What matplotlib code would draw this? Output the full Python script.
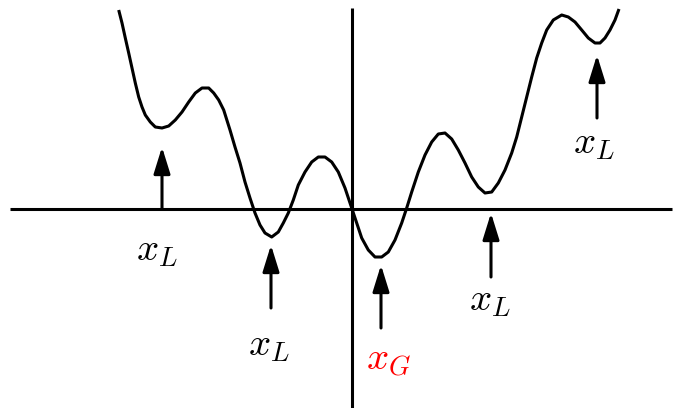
import matplotlib
matplotlib.use('Agg')
import matplotlib.pyplot as plt

plt.rcParams['mathtext.fontset'] = 'cm'

# curve samples (origin at the axes crossing, y up)
curve_x = [-233.3, -230, -226.7, -223.3, -220, -216.7, -213.3, -210, -206.7, -201.7,
           -196.7, -190, -183.3, -176.7, -170, -163.3, -156.7, -150, -143.3, -138.3,
           -133.3, -128.3, -122, -117, -112, -107, -102, -97, -92, -87,
           -80.3, -73.7, -68.7, -63.7, -58.7, -53.7, -47, -40.3, -33.7, -27,
           -20.3, -13.7, -7, -0.3, 4.7, 9.7, 16.3, 23, 29.7, 36.3,
           43, 49.7, 54.7, 59.7, 66.3, 73, 79.7, 86.3, 93, 99.7,
           106.3, 113, 119.7, 126.3, 133, 139.7, 146.3, 153, 159.7, 164.7,
           169.7, 174.7, 179.7, 184.7, 189.7, 194.7, 201.3, 209.7, 216.3, 223,
           229.7, 236.3, 243, 248, 253, 258, 263, 267]
curve_y = [199, 186, 171, 156, 141, 126, 112, 102, 94, 87,
           82, 81, 83, 89, 97, 107, 116, 121, 121, 116,
           109, 99, 79, 62, 46, 27, 11, -4, -16, -24,
           -28, -23, -14, -4, 9, 24, 37, 47, 52, 52,
           47, 37, 21, 1, -14, -29, -41, -48, -48, -43,
           -31, -14, 1, 17, 37, 54, 67, 75, 76, 70,
           59, 46, 32, 22, 16, 17, 26, 39, 56, 72,
           92, 112, 132, 151, 166, 179, 189, 194, 192, 187,
           179, 171, 166, 166, 171, 179, 189, 200]

# minima: arrow x, tip y, tail y, then label position, text and colour
arrow_x = [-190, -81, 29, 139, 245]
arrow_tip = [62, -36, -56, -4, 154]
arrow_tail = [0, -99, -119, -68, 91]
label_x = [-195, -83, 36, 138, 242]
label_y = [-41, -136, -151, -91, 66]
label_txt = [r'$x_L$', r'$x_L$', r'$x_G$', r'$x_L$', r'$x_L$']
label_col = ['black', 'black', 'red', 'black', 'black']

fig = plt.figure(figsize=(6.85, 4.08), dpi=100)
ax = fig.add_axes([0, 0, 1, 1])
ax.set_xlim(-352, 333)
ax.set_ylim(-199, 209)
ax.axis('off')

# axes lines
ax.plot([-342, 320], [0, 0], color='black', lw=2.2, solid_capstyle='butt')
ax.plot([0, 0], [-199, 201], color='black', lw=2.2, solid_capstyle='butt')

ax.plot(curve_x, curve_y, color='black', lw=2.2,
        solid_joinstyle='round', solid_capstyle='butt')

for i in range(len(arrow_x)):
    ax.annotate('', xy=(arrow_x[i], arrow_tip[i]), xytext=(arrow_x[i], arrow_tail[i]),
                arrowprops=dict(arrowstyle='-|>,head_length=0.9,head_width=0.28',
                                lw=2.2, color='black', mutation_scale=18,
                                shrinkA=0, shrinkB=0))
    ax.text(label_x[i], label_y[i], label_txt[i], color=label_col[i],
            fontsize=28, ha='center', va='center')

fig.savefig('out.png', dpi=100)
